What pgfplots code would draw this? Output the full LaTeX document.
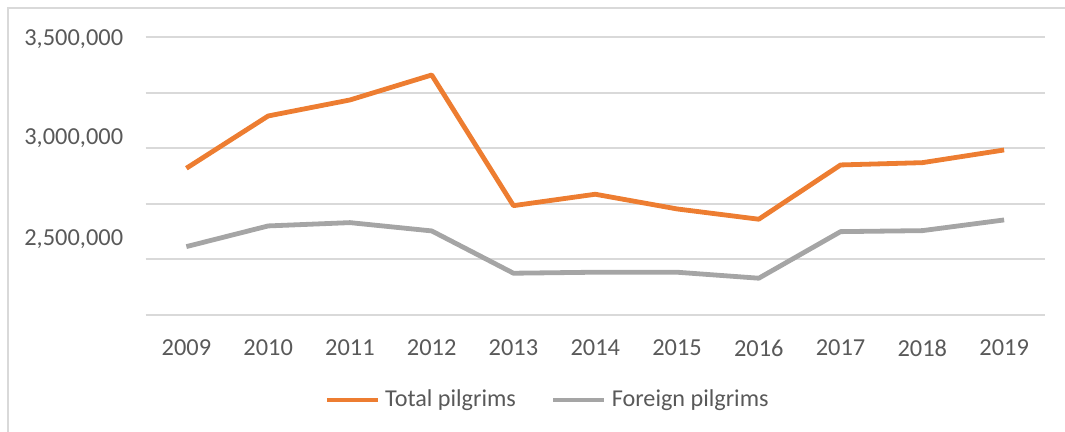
\documentclass[border=0pt]{standalone}
\usepackage{fontspec}
\setmainfont{Carlito}
\usepackage{pgfplots}
\pgfplotsset{compat=1.18}
\definecolor{xlorange}{HTML}{ED7D31}
\definecolor{xlgray}{HTML}{A5A5A5}
\definecolor{xltext}{HTML}{595959}
\definecolor{xlgrid}{HTML}{D9D9D9}
\begin{document}
\begin{tikzpicture}
\path[use as bounding box] (0,0) rectangle (532.5pt,-216pt);
\draw[xlgrid, line width=0.6pt] (4pt,-216pt) -- (4pt,-4pt) -- (532.5pt,-4pt);
\begin{axis}[
  at={(72.75pt,-157.35pt)}, anchor=south west,
  scale only axis, width=449.75pt, height=138.7pt,
  xmin=-0.5, xmax=10.5, ymin=2250000, ymax=3500000,
  scaled y ticks=false,
  axis line style={draw=none},
  tick style={draw=none},
  font=\fontsize{12.2}{14}\selectfont,
  /pgf/number format/assume math mode=true,
  xtick={0,...,10},
  xticklabels={2009,2010,2011,2012,2013,2014,2015,2016,2017,2018,2019},
  xticklabel style={anchor=center, inner sep=0pt, yshift=-16.7pt, text=xltext},
  ytick={2590090,3047750,3491000},
  yticklabels={{2,500,000},{3,000,000},{3,500,000}},
  yticklabel style={anchor=east, inner sep=0pt, xshift=-11pt, text=xltext},
  extra y ticks={2250000,2500000,2750000,3000000,3250000,3500000},
  extra y tick labels={},
  extra y tick style={ymajorgrids=true, major grid style={xlgrid, line width=0.8pt}},
  legend columns=2,
  legend style={draw=none, fill=none, at={(0.4458,-0.3075)}, anchor=center,
    font=\fontsize{12.1}{14}\selectfont, text=xltext,
    nodes={inner sep=0pt},
    /tikz/every odd column/.append style={column sep=2.5pt},
    /tikz/every even column/.append style={column sep=17.5pt}},
  legend image code/.code={\draw[#1, line width=2.4pt] (0pt,0pt) -- (25.5pt,0pt);},
]
\addplot[xlorange, line width=2.4pt, line join=round] coordinates {
(0,2909900) (1,3145500) (2,3217600) (3,3330200) (4,2741400) (5,2792800)
(6,2726600) (7,2680200) (8,2924800) (9,2935100) (10,2992300)};
\addlegendentry{Total pilgrims}
\addplot[xlgray, line width=2.4pt, line join=round] coordinates {
(0,2556800) (1,2650000) (2,2664900) (3,2627500) (4,2436900) (5,2441400)
(6,2441400) (7,2414400) (8,2624300) (9,2628800) (10,2677000)};
\addlegendentry{Foreign pilgrims}
\end{axis}
\end{tikzpicture}
\end{document}
